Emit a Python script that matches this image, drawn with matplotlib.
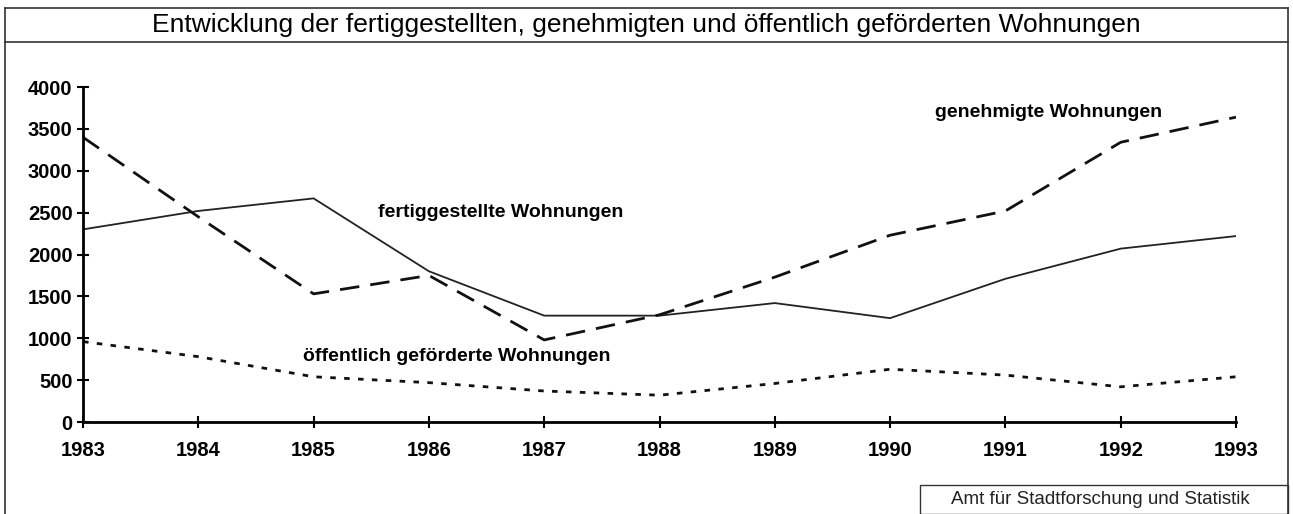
import matplotlib
matplotlib.use("Agg")
import matplotlib.pyplot as plt
from matplotlib.lines import Line2D
from matplotlib.patches import Rectangle

plt.rcParams["font.family"] = ["Liberation Sans", "DejaVu Sans"]

years = list(range(1983, 1994))
fertig = [2300, 2520, 2670, 1800, 1270, 1270, 1420, 1240, 1710, 2070, 2220]
genehmigt = [3400, 2450, 1530, 1750, 980, 1280, 1730, 2230, 2520, 3340, 3640]
oeffentlich = [960, 780, 540, 470, 370, 320, 460, 630, 560, 420, 540]

title = "Entwicklung der fertiggestellten, genehmigten und öffentlich geförderten Wohnungen"
source = "Amt für Stadtforschung und Statistik"

W, H = 1293, 514
fig = plt.figure(figsize=(W / 100, H / 100), dpi=100)

def fx(px):
    return px / W

def fy(py):
    return 1 - py / H

# frame around the chart and title row
for xs, ys in [([5, 1288], [8, 8]), ([5, 1288], [42, 42]), ([5, 5], [8, 514]),
               ([1288, 1288], [8, 514])]:
    fig.add_artist(Line2D([fx(x) for x in xs], [fy(y) for y in ys],
                          color="#333333", lw=1.2))
fig.text(0.5, fy(25), title, ha="center", va="center", fontsize=19)

# source box bottom right
fig.add_artist(Rectangle((fx(920), fy(514)), fx(1288) - fx(920), fy(485) - fy(514),
                         fill=False, ec="#333333", lw=1.0))
fig.text(fx(1100), fy(499), source, ha="center", va="center", fontsize=13.5,
         color="#222222")

ax = fig.add_axes([fx(83), fy(422), fx(1236) - fx(83), fy(87) - fy(422)])
ax.plot(years, fertig, color="#222222", lw=1.3, ls="-")
ax.plot(years, genehmigt, color="#111111", lw=2.0, ls=(0, (7, 4)))
ax.plot(years, oeffentlich, color="#111111", lw=2.0, ls=(0, (2, 3)))

ax.set_xlim(1983, 1993)
ax.set_ylim(0, 4000)
ax.set_xticks(years)
ax.set_yticks(range(0, 4001, 500))
ax.tick_params(direction="inout", length=9, width=1.5, labelsize=14.5)
ax.tick_params(axis="y", pad=3)
ax.tick_params(axis="x", pad=9)
for s in ["top", "right"]:
    ax.spines[s].set_visible(False)
for s in ["left", "bottom"]:
    ax.spines[s].set_linewidth(2)
for lab in ax.get_xticklabels() + ax.get_yticklabels():
    lab.set_fontweight("bold")

ax.text(1985.56, 2500, "fertiggestellte Wohnungen", fontsize=14, fontweight="bold",
        va="center")
ax.text(1990.39, 3690, "genehmigte Wohnungen", fontsize=14, fontweight="bold",
        va="center")
ax.text(1984.91, 780, "öffentlich geförderte Wohnungen", fontsize=14,
        fontweight="bold", va="center")

fig.savefig("out.png", dpi=100)
